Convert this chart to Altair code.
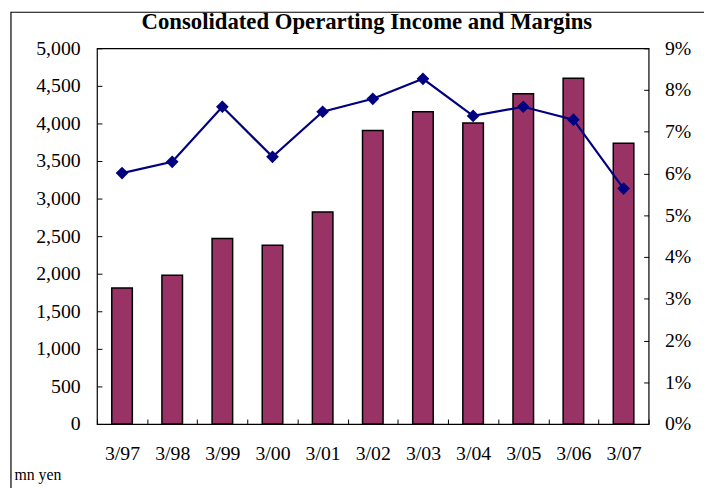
import altair as alt
import pandas as pd

periods = ["3/97", "3/98", "3/99", "3/00", "3/01", "3/02", "3/03", "3/04", "3/05", "3/06", "3/07"]
income = [1810, 1980, 2470, 2380, 2820, 3905, 4155, 4005, 4395, 4600, 3735]
margin = [0.0601, 0.0628, 0.0760, 0.0640, 0.0748, 0.0779, 0.0827, 0.0738, 0.0760, 0.0729, 0.0564]

income_ticks = list(range(0, 5001, 500))
margin_ticks = [i / 100 for i in range(0, 10)]

df = pd.DataFrame({"period": periods, "income": income, "margin": margin})

W, H = 558, 380
FONT = "Liberation Serif"

x_enc = alt.X(
    "period:N",
    sort=periods,
    scale=alt.Scale(paddingInner=0, paddingOuter=0),
    axis=alt.Axis(
        title="mn yen",
        titleX=-84,
        titleY=61,
        titleAlign="left",
        titleBaseline="alphabetic",
        titleFont=FONT,
        titleFontSize=16,
        titleFontWeight="normal",
        titleColor="black",
        labelAngle=0,
        labelFont=FONT,
        labelFontSize=20,
        labelColor="black",
        labelPadding=20,
        domain=False,
        tickBand="extent",
        offset=-5,
        tickSize=5,
        tickColor="black",
        tickWidth=1,
    ),
)

base = alt.Chart(df)

bars = base.mark_bar(
    color="#993366", stroke="black", strokeWidth=1.5,
    width=alt.RelativeBandSize(0.41),
).encode(
    x=x_enc,
    y=alt.Y(
        "income:Q",
        scale=alt.Scale(domain=[0, 5000], nice=False),
        axis=alt.Axis(
            title=None,
            values=income_ticks,
            format=",d",
            orient="left",
            labelFont=FONT,
            labelFontSize=20,
            labelColor="black",
            labelPadding=17,
            domain=False,
            offset=-5,
            tickSize=5,
            tickColor="black",
            grid=False,
        ),
    ),
)

y2 = alt.Y(
    "margin:Q",
    scale=alt.Scale(domain=[0, 0.09], nice=False),
    axis=alt.Axis(
        title=None,
        values=margin_ticks,
        format=".0%",
        orient="right",
        labelFont=FONT,
        labelFontSize=20,
        labelColor="black",
        labelPadding=16,
        domain=False,
        offset=-5,
        tickSize=5,
        tickColor="black",
        grid=False,
    ),
)

line = base.mark_line(color="#000080", strokeWidth=2.2).encode(x=x_enc, y=y2)
points = base.mark_point(shape="diamond", filled=True, size=165, color="#000080", opacity=1).encode(x=x_enc, y=y2)

border = alt.Chart(pd.DataFrame({"a": [0]})).mark_rect(
    fillOpacity=0, stroke="black", strokeWidth=1.2
).encode(
    x=alt.value(-87), y=alt.value(-36.5), x2=alt.value(700), y2=alt.value(500)
)

chart = alt.layer(
    border,
    bars,
    alt.layer(line, points),
).resolve_scale(y="independent").properties(
    width=W,
    height=H,
    autosize=alt.AutoSizeParams(type="none"),
    padding={"left": 90, "top": 38, "right": 56, "bottom": 64},
    title=alt.TitleParams(
        "Consolidated Operarting Income and Margins",
        font=FONT,
        fontSize=23,
        fontWeight="bold",
        color="black",
        offset=10,
        dy=33,
        anchor="middle",
        frame="group",
        dx=-6,
    ),
).configure_view(stroke="black", strokeWidth=1.2)

chart.save("out.html", embed_options={"renderer": "svg", "actions": False})
